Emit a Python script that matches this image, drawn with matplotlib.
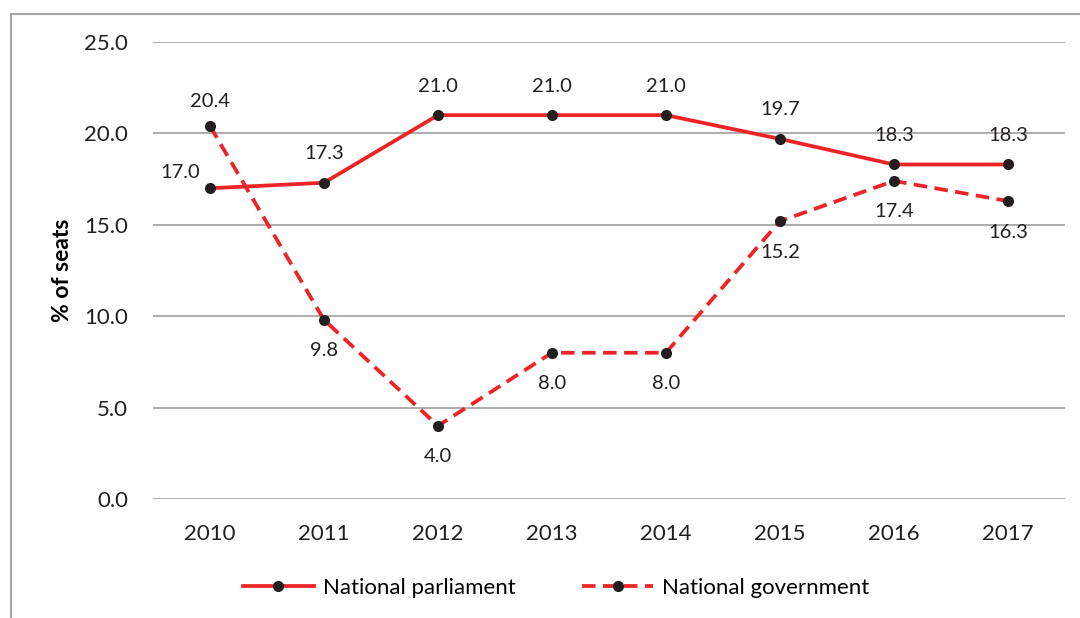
import matplotlib.pyplot as plt
from matplotlib.patches import Rectangle

plt.rcParams['font.family'] = ['Lato', 'DejaVu Sans']

years = ['2010', '2011', '2012', '2013', '2014', '2015', '2016', '2017']
parliament = [17.0, 17.3, 21.0, 21.0, 21.0, 19.7, 18.3, 18.3]
government = [20.4, 9.8, 4.0, 8.0, 8.0, 15.2, 17.4, 16.3]
yticks = [0, 5, 10, 15, 20, 25]

red = '#EE2326'
dark = '#231F20'
fig = plt.figure(figsize=(10.8, 6.18), dpi=100)
ax = fig.add_axes([0.1417, 0.1926, 0.8443, 0.7394])

x = range(len(years))
ax.plot(x, parliament, color=red, lw=2.7, marker='o', ms=7,
        mfc=dark, mec=dark, label='National parliament', zorder=3)
ax.plot(x, government, color=red, lw=2.7, ls=(0, (3.6, 2.0)), marker='o', ms=7,
        mfc=dark, mec=dark, label='National government', zorder=3)

# data labels (offsets in pixels)
for i, v in enumerate(parliament):
    off = (-30, 16) if i == 0 else (0, 29)
    ax.annotate(f'{v:.1f}', (i, v), xytext=off, textcoords='offset pixels',
                ha='center', va='center', fontsize=14.5, color=dark)
for i, v in enumerate(government):
    off = (0, 25) if i == 0 else (0, -31)
    ax.annotate(f'{v:.1f}', (i, v), xytext=off, textcoords='offset pixels',
                ha='center', va='center', fontsize=14.5, color=dark)

ax.set_xlim(-0.5, len(years) - 0.5)
ax.set_ylim(0, 25)
ax.set_xticks(list(x))
ax.set_xticklabels(years)
ax.set_yticks(yticks)
ax.set_yticklabels([f'{t:.1f}' for t in yticks])
ax.tick_params(length=0, labelsize=16, colors=dark)
ax.tick_params(axis='y', pad=18)
ax.tick_params(axis='x', pad=18)
for s in ax.spines.values():
    s.set_visible(False)
ax.grid(axis='y', color='#A6A6A6', lw=1.3)
ax.set_axisbelow(True)
ax.set_ylabel('% of seats', fontsize=16.5, fontweight='bold', labelpad=8)

ax.legend(loc='center', bbox_to_anchor=(0.442, -0.195), ncol=2, frameon=False,
          fontsize=16, handlelength=3.2, columnspacing=3.0, handletextpad=0.4)

fig.patches.append(Rectangle((11 / 1080, -0.1), 1.2, 1.1 - 14 / 618,
                             transform=fig.transFigure, fill=False,
                             ec='#A6A6A6', lw=1.5))

fig.savefig('out.png', dpi=100)
